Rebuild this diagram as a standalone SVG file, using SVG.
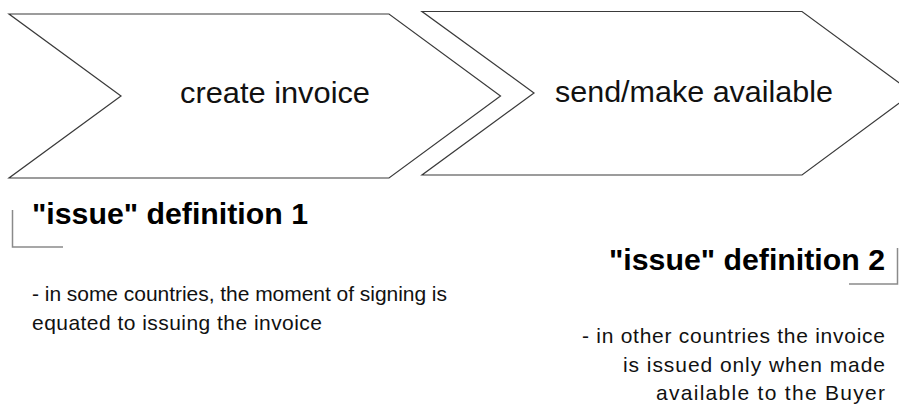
<svg xmlns="http://www.w3.org/2000/svg" width="899" height="405" viewBox="0 0 899 405">
<style>
.chev{fill:#fff;stroke:#3a3a3a;stroke-width:1.2}
.lbl{font-family:"Liberation Sans",Arial,sans-serif;font-size:30px;fill:#111}
.head{font-family:"Liberation Sans",Arial,sans-serif;font-size:30px;font-weight:bold;fill:#000}
.body{font-family:"Liberation Sans",Arial,sans-serif;font-size:21px;fill:#111}
.brk{fill:none;stroke:#8a8a8a;stroke-width:1.5}
</style>
<rect width="899" height="405" fill="#fff"/>
<g id="create-invoice">
<polygon class="chev" points="9,14 389,14 500.5,96 389,178 9,178 121,96"/>
<text class="lbl" x="275" y="103" text-anchor="middle" textLength="190" lengthAdjust="spacingAndGlyphs">create invoice</text>
</g>
<g id="send-make-available">
<polygon class="chev" points="422,11.5 802,11.5 913,93 802,175 422,175 534,93"/>
<text class="lbl" x="694" y="102" text-anchor="middle" textLength="278" lengthAdjust="spacingAndGlyphs">send/make available</text>
</g>
<g id="definition-1">
<polyline class="brk" points="12.5,210 12.5,247 63,247"/>
<text class="head" x="32" y="224" textLength="276" lengthAdjust="spacingAndGlyphs">"issue" definition 1</text>
<text class="body" x="32" y="301" textLength="415" lengthAdjust="spacing">- in some countries, the moment of signing is</text>
<text class="body" x="32" y="330" textLength="290" lengthAdjust="spacing">equated to issuing the invoice</text>
</g>
<g id="definition-2">
<polyline class="brk" points="849,284 897.5,284 897.5,248"/>
<text class="head" x="885" y="270" text-anchor="end" textLength="276" lengthAdjust="spacingAndGlyphs">"issue" definition 2</text>
<text class="body" x="885" y="343" text-anchor="end" textLength="303" lengthAdjust="spacing">- in other countries the invoice</text>
<text class="body" x="885" y="372" text-anchor="end" textLength="262" lengthAdjust="spacing">is issued only when made</text>
<text class="body" x="885" y="400" text-anchor="end" textLength="229" lengthAdjust="spacing">available to the Buyer</text>
</g>
<g id="connectors"/>
</svg>
